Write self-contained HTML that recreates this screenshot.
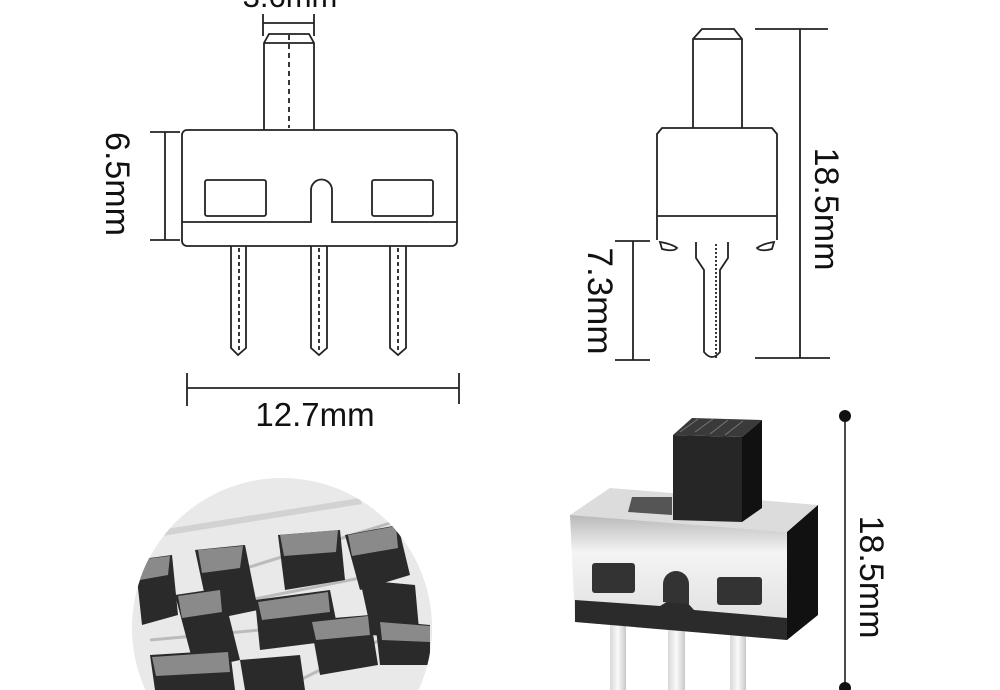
<!DOCTYPE html>
<html><head><meta charset="utf-8"><style>
html,body{margin:0;padding:0;background:#fff;}
svg{display:block}
text{font-family:"Liberation Sans",sans-serif;fill:#111}
</style></head><body>
<svg width="1000" height="690" viewBox="0 0 1000 690" xmlns="http://www.w3.org/2000/svg">
<defs>
<clipPath id="c"><circle cx="282" cy="628" r="150"/></clipPath>
<linearGradient id="met" x1="0" y1="0" x2="0" y2="1"><stop offset="0" stop-color="#b9b9b9"/><stop offset="0.3" stop-color="#f4f4f4"/><stop offset="1" stop-color="#dcdcdc"/></linearGradient>
<linearGradient id="pin" x1="0" y1="0" x2="1" y2="0"><stop offset="0" stop-color="#d8d8d8"/><stop offset="0.5" stop-color="#fafafa"/><stop offset="1" stop-color="#c8c8c8"/></linearGradient>
</defs>
<g fill="none" stroke="#222" stroke-width="1.8">
<text x="290" y="7" font-size="31" text-anchor="middle" stroke="none">3.6mm</text>
<line x1="263" y1="14" x2="263" y2="36"/><line x1="314" y1="14" x2="314" y2="36"/><line x1="263" y1="23" x2="314" y2="23"/>
<path d="M264,130 V43 L269,34 H309 L314,43 V130"/>
<line x1="264" y1="43" x2="314" y2="43"/>
<line x1="289" y1="35" x2="289" y2="128" stroke-dasharray="5,4"/>
<rect x="182" y="130" width="275" height="116" rx="5"/>
<path d="M182,222 H311 V190 A10.5,10.5 0 0 1 332,190 V222 H457"/>
<rect x="205" y="180" width="61" height="36" rx="2"/>
<rect x="372" y="180" width="61" height="36" rx="2"/>
<path d="M231,246 V348 L238,355 L246,348 V246"/>
<path d="M311,246 V348 L319,355 L327,348 V246"/>
<path d="M390,246 V348 L398,355 L406,348 V246"/>
<g stroke-dasharray="4,3"><line x1="239" y1="248" x2="239" y2="352"/><line x1="319" y1="248" x2="319" y2="352"/><line x1="398" y1="248" x2="398" y2="352"/></g>
<line x1="150" y1="132" x2="180" y2="132"/><line x1="150" y1="240" x2="180" y2="240"/><line x1="165" y1="132" x2="165" y2="240"/>
<line x1="187" y1="373" x2="187" y2="406"/><line x1="459" y1="373" x2="459" y2="404"/><line x1="187" y1="388" x2="459" y2="388"/>
<text x="315" y="426" font-size="33" text-anchor="middle" stroke="none">12.7mm</text>
<text transform="translate(106,184) rotate(90)" font-size="34" text-anchor="middle" stroke="none">6.5mm</text>
<path d="M693,128 V39 L702,29 H734 L742,39 V128"/>
<line x1="693" y1="39" x2="742" y2="39"/>
<path d="M657,240 V134 L662,128 H772 L777,134 V240"/>
<line x1="657" y1="216" x2="777" y2="216"/>
<path d="M660,242 Q672,244 677,248 Q674,252 662,249 Z"/>
<path d="M774,242 Q762,244 757,248 Q760,252 772,249 Z"/>
<path d="M696,242 V258 L704,270 V352 Q712,362 720,352 V270 L728,258 V242"/>
<line x1="716" y1="244" x2="716" y2="358" stroke-dasharray="2,2"/>
<line x1="755" y1="29" x2="828" y2="29"/><line x1="755" y1="358" x2="830" y2="358"/><line x1="800" y1="29" x2="800" y2="358"/>
<text transform="translate(815,209) rotate(90)" font-size="34" text-anchor="middle" stroke="none">18.5mm</text>
<line x1="615" y1="241" x2="650" y2="241"/><line x1="615" y1="360" x2="650" y2="360"/><line x1="633" y1="241" x2="633" y2="360"/>
<text transform="translate(588,301) rotate(90)" font-size="35" text-anchor="middle" stroke="none">7.3mm</text>
</g>
<g clip-path="url(#c)">
<rect x="120" y="470" width="330" height="230" fill="#e9e9e9"/>
<polygon points="160,530 360,498 362,504 162,536" fill="#d2d2d2"/>
<g stroke="#bbb" stroke-width="3">
<line x1="240" y1="570" x2="400" y2="520"/><line x1="250" y1="600" x2="400" y2="570"/><line x1="150" y1="640" x2="260" y2="630"/><line x1="300" y1="680" x2="380" y2="640"/>
</g>
<g fill="#2a2a2a">
<polygon points="135,560 172,555 178,615 142,625"/>
<polygon points="195,550 245,545 258,610 210,620"/>
<polygon points="278,535 340,530 345,580 285,590"/>
<polygon points="345,535 398,525 410,575 360,590"/>
<polygon points="175,595 222,588 240,660 195,670"/>
<polygon points="255,600 330,590 340,640 260,650"/>
<polygon points="310,620 370,615 378,665 320,675"/>
<polygon points="360,580 415,585 420,640 372,635"/>
<polygon points="150,655 230,650 235,690 155,690"/>
<polygon points="240,660 300,655 305,690 245,690"/>
<polygon points="375,620 430,625 430,665 380,665"/>
</g>
<g fill="#8a8a8a">
<polygon points="137,560 170,556 168,575 140,580"/>
<polygon points="198,550 243,546 240,568 202,573"/>
<polygon points="280,535 338,530 336,552 284,556"/>
<polygon points="348,535 396,526 398,548 352,556"/>
<polygon points="178,596 220,590 222,612 182,618"/>
<polygon points="258,602 328,592 330,612 262,620"/>
<polygon points="312,622 368,616 370,635 316,640"/>
<polygon points="380,622 430,626 430,642 382,640"/>
<polygon points="152,657 228,652 230,672 156,676"/>
</g>
</g>
<g>
<rect x="610" y="620" width="16" height="70" fill="url(#pin)"/>
<rect x="668" y="625" width="17" height="65" fill="url(#pin)"/>
<rect x="730" y="630" width="16" height="60" fill="url(#pin)"/>
<polygon points="570,515 610,488 818,505 787,532" fill="#dcdcdc"/>
<polygon points="632,497 672,497 672,515 628,512" fill="#555"/>
<polygon points="673,435 742,437 742,522 673,520" fill="#262626"/>
<polygon points="742,437 762,420 762,508 742,522" fill="#111"/>
<polygon points="673,435 692,418 762,420 742,437" fill="#3a3a3a"/>
<g stroke="#777" stroke-width="1"><line x1="680" y1="432" x2="698" y2="419"/><line x1="695" y1="432" x2="713" y2="419"/><line x1="710" y1="434" x2="728" y2="420"/><line x1="725" y1="435" x2="743" y2="421"/></g>
<polygon points="570,515 787,532 787,640 575,622" fill="url(#met)"/>
<polygon points="575,600 660,606 670,600 685,600 694,610 787,618 787,640 575,622" fill="#2b2b2b"/>
<polygon points="787,532 818,505 818,615 787,640" fill="#111"/>
<rect x="592" y="563" width="43" height="30" rx="3" fill="#333"/>
<rect x="717" y="577" width="45" height="28" rx="3" fill="#333"/>
<path d="M663,602 V584 A13,13 0 0 1 689,584 V604 Z" fill="#333"/>
</g>
<g stroke="#111" stroke-width="1.5"><line x1="845" y1="416" x2="845" y2="688"/></g>
<circle cx="845" cy="416" r="6" fill="#111"/><circle cx="845" cy="688" r="6" fill="#111"/>
<text transform="translate(860,577) rotate(90)" font-size="34" text-anchor="middle">18.5mm</text>
</svg>
</body></html>
